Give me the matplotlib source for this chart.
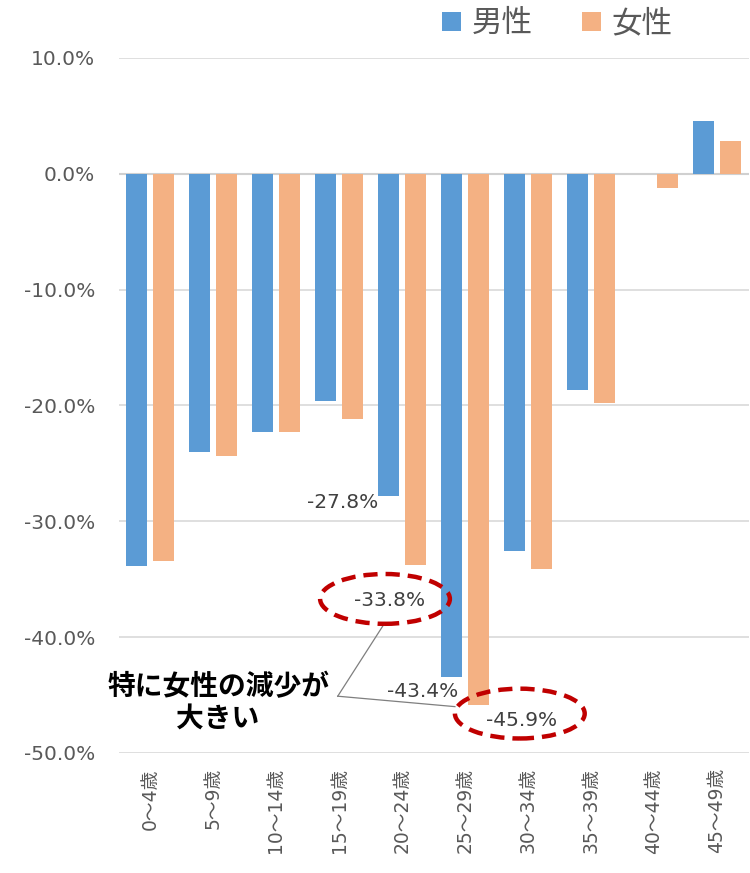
import matplotlib
matplotlib.use("Agg")
import matplotlib.pyplot as plt
from matplotlib.patches import Ellipse
import numpy as np

plt.rcParams['font.family'] = ['DejaVu Sans', 'Noto Sans CJK JP']

categories = ["0～4歳", "5～9歳", "10～14歳", "15～19歳", "20～24歳",
              "25～29歳", "30～34歳", "35～39歳", "40～44歳", "45～49歳"]
male = [-33.9, -24.0, -22.3, -19.6, -27.8, -43.4, -32.6, -18.7, -0.05, 4.6]
female = [-33.4, -24.4, -22.3, -21.2, -33.8, -45.9, -34.1, -19.8, -1.2, 2.8]
series_names = ["男性", "女性"]
yticks = [10, 0, -10, -20, -30, -40, -50]

blue = "#5B9BD5"
orange = "#F4B183"
gray_txt = "#595959"

fig = plt.figure(figsize=(7.5, 8.73), dpi=100)
ax = fig.add_axes([0.158, 0.1375, 0.840, 0.7961])

x = np.arange(len(categories))
w = 0.33
off = 0.214
b1 = ax.bar(x - off, male, w, color=blue, label=series_names[0], zorder=3)
b2 = ax.bar(x + off, female, w, color=orange, label=series_names[1], zorder=3)

ax.set_ylim(-50, 10)
ax.set_xlim(-0.5, len(categories) - 0.5)
ax.set_yticks(yticks)
ax.set_yticklabels([f"{v:.1f}%" for v in yticks], fontsize=14.5, color=gray_txt)
ax.set_xticks(x)
ax.set_xticklabels(categories, rotation=90, fontsize=13.5, color=gray_txt)
ax.tick_params(axis='both', length=0)
ax.tick_params(axis='y', pad=17)
ax.tick_params(axis='x', pad=11)
for s in ax.spines.values():
    s.set_visible(False)
ax.grid(axis='y', color="#D9D9D9", linewidth=1.2, zorder=0)
ax.axhline(0, color="#D0D0D0", linewidth=1.5, zorder=2)

# data labels
lab_kw = dict(fontsize=14.5, color="#404040", ha='center', va='center', zorder=5)
ax.text(3.06, -28.4, f"{male[4]:.1f}%", **lab_kw)
ax.text(3.81, -36.8, f"{female[4]:.1f}%", **lab_kw)
ax.text(4.33, -44.7, f"{male[5]:.1f}%", **lab_kw)
ax.text(5.89, -47.2, f"{female[5]:.1f}%", **lab_kw)

# dashed ellipses
for cx, cy in [(3.73, -36.7), (5.87, -46.6)]:
    e = Ellipse((cx, cy), 2.06, 4.3, fill=False, edgecolor="#C00000",
                linewidth=3.2, linestyle=(0, (3.2, 1.8)), zorder=6)
    ax.add_patch(e)

# callout lines
ax.plot([2.98, 3.70], [-45.1, -39.0], color="#7F7F7F", lw=0.9, zorder=4)
ax.plot([2.98, 4.84], [-45.1, -46.0], color="#7F7F7F", lw=0.9, zorder=4)
ax.text(1.08, -45.7, "特に女性の減少が\n大きい", fontsize=20, fontweight='bold',
        color='black', ha='center', va='center', linespacing=1.15,
        family=['Noto Sans CJK JP'], zorder=6)

leg = fig.legend(handles=[b1, b2], labels=series_names, loc='upper left',
                 bbox_to_anchor=(0.553, 1.022), ncol=2, frameon=False,
                 prop={'family': 'Noto Sans CJK JP', 'size': 22},
                 handlelength=0.62, handleheight=0.62, handletextpad=0.35,
                 columnspacing=1.6)
for t in leg.get_texts():
    t.set_color(gray_txt)

fig.savefig("out.png", dpi=100)
